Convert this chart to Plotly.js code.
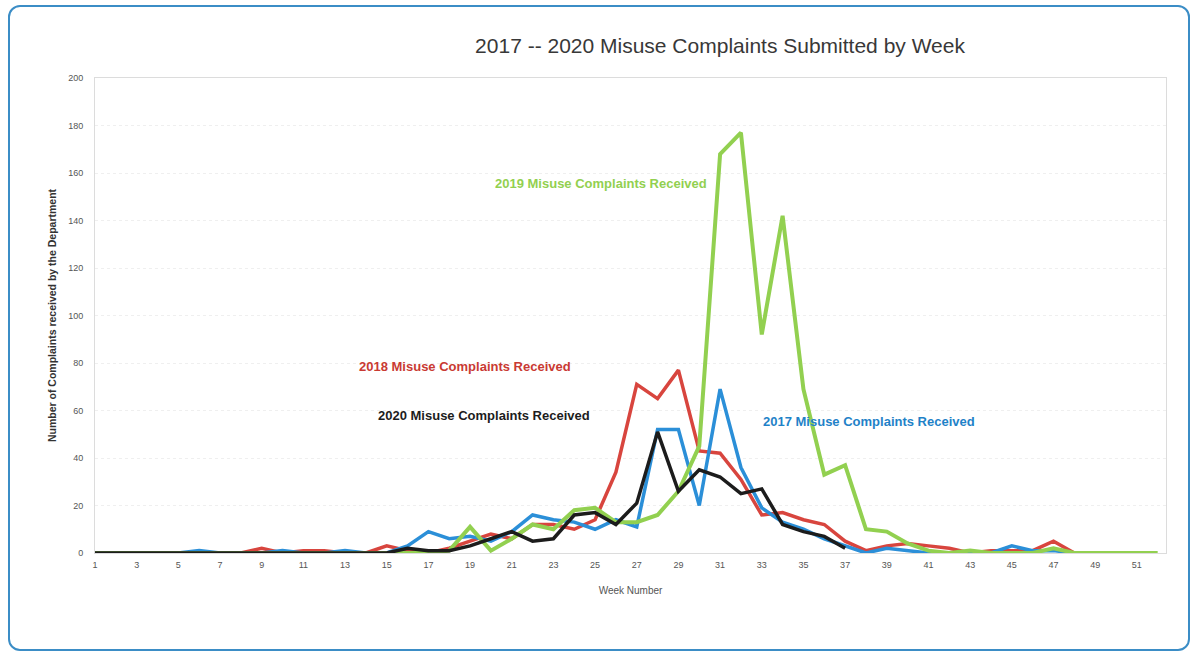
<!DOCTYPE html>
<html>
<head>
<meta charset="utf-8">
<script src="https://cdn.plot.ly/plotly-3.0.1.min.js"></script>
<style>
  html, body { margin: 0; padding: 0; background: #ffffff; width: 1194px; height: 656px; overflow: hidden; }
  #frame { position: absolute; left: 8px; top: 5px; width: 1178px; height: 642px;
           border: 2px solid #3b8dc6; border-radius: 12px; background: #ffffff; }
  #chart { position: absolute; left: 0; top: 0; width: 1178px; height: 642px; }
</style>
</head>
<body>
<div id="frame"><div id="chart"></div></div>
<script>
// Week numbers
const weeks = Array.from({length: 52}, (_, i) => i + 1);
const xTickVals = [1,3,5,7,9,11,13,15,17,19,21,23,25,27,29,31,33,35,37,39,41,43,45,47,49,51];
const yTickVals = [0,20,40,60,80,100,120,140,160,180,200];

// 2017 complaints (weeks 1-48)
const y2017 = [0,0,0,0,0,1,0,0,0,1, 0,0,1,0,0,3,9,6,7,5,
               9,16,14,13,10,14,11,52,52,20, 69,36,19,13,10,6,3,0,2,1,
               0,0,0,0,3,1,1,0];
// 2018 complaints (weeks 1-48)
const y2018 = [0,0,0,0,0,0,0,0,2,0, 1,1,0,0,3,1,0,2,5,8,
               6,12,12,10,14,34,71,65,77,43, 42,31,16,17,14,12,5,1,3,4,
               3,2,0,1,1,1,5,0];
// 2019 complaints (weeks 1-52)
const y2019 = [0,0,0,0,0,0,0,0,0,0, 0,0,0,0,0,0,0,1,11,1,
               6,12,10,18,19,13,13,16,26,45, 168,177,92,142,69,33,37,10,9,4,
               1,0,1,0,0,0,2,0,0,0, 0,0];
// 2020 complaints (weeks 1-37)
const y2020 = [0,0,0,0,0,0,0,0,0,0, 0,0,0,0,0,2,1,1,3,6,
               9,5,6,16,17,12,21,51,26,35, 32,25,27,12,9,7,2];

const seriesLabels = ["2017 Misuse Complaints Received","2018 Misuse Complaints Received",
                      "2019 Misuse Complaints Received","2020 Misuse Complaints Received"];
const colors = {c2017:'#2b8fd8', c2018:'#d8453e', c2019:'#92d050', c2020:'#1c1c1c'};

function tr(y, color, name, w) {
  return { x: weeks.slice(0, y.length), y: y, type: 'scatter', mode: 'lines', name: name,
           line: {color: color, width: w}, hoverinfo: 'skip' };
}
const data = [
  tr(y2018, colors.c2018, seriesLabels[1], 3.5),
  tr(y2017, colors.c2017, seriesLabels[0], 3.5),
  tr(y2019, colors.c2019, seriesLabels[2], 4),
  tr(y2020, colors.c2020, seriesLabels[3], 3.5)
];

const annFont = {family: 'Liberation Sans, Arial, sans-serif', size: 13};
function ann(text, x, y, color) {
  return {text: '<b>' + text + '</b>', x: x, y: y, xref: 'x', yref: 'y', showarrow: false,
          font: Object.assign({}, annFont, {color: color}), xanchor: 'center', yanchor: 'middle'};
}

const layout = {
  width: 1178, height: 642,
  margin: {l: 85, r: 22, t: 71, b: 96},
  paper_bgcolor: 'rgba(0,0,0,0)', plot_bgcolor: '#ffffff',
  showlegend: false,
  title: {text: '2017 -- 2020 Misuse Complaints Submitted by Week',
          font: {family: 'Liberation Sans, Arial, sans-serif', size: 21, color: '#383838'},
          x: 0.5836, xref: 'paper', xanchor: 'center', y: 0.94, yref: 'container', yanchor: 'middle'},
  xaxis: {
    range: [1, 52.4], tickvals: xTickVals, ticktext: xTickVals.map(String),
    showgrid: false, zeroline: false, showline: true, mirror: true, linecolor: '#dcdcdc', linewidth: 1,
    ticks: '', ticklabelstandoff: 3,
    tickfont: {family: 'Liberation Sans, Arial, sans-serif', size: 9, color: '#555555'},
    title: {text: 'Week Number', standoff: 18,
            font: {family: 'Liberation Sans, Arial, sans-serif', size: 10, color: '#555555'}}
  },
  yaxis: {
    range: [0, 200], tickvals: yTickVals, ticktext: yTickVals.map(String),
    showgrid: true, gridcolor: '#efefef', griddash: 'dot', gridwidth: 1,
    zeroline: false, showline: true, mirror: true, linecolor: '#dcdcdc', linewidth: 1,
    ticks: '', ticklabelstandoff: 9,
    tickfont: {family: 'Liberation Sans, Arial, sans-serif', size: 9, color: '#555555'},
    title: {text: '<b>Number of Complaints received by the Department</b>', standoff: 9,
            font: {family: 'Liberation Sans, Arial, sans-serif', size: 10.5, color: '#333333'}}
  },
  annotations: [
    ann(seriesLabels[2], 25.28, 155.4, '#92d050'),
    ann(seriesLabels[1], 18.75, 78.7, '#c93a33'),
    ann(seriesLabels[3], 19.67, 57.7, '#1c1c1c'),
    ann(seriesLabels[0], 38.14, 55.2, '#1f82c8')
  ]
};

Plotly.newPlot('chart', data, layout, {displayModeBar: false, staticPlot: true});
</script>
</body>
</html>
